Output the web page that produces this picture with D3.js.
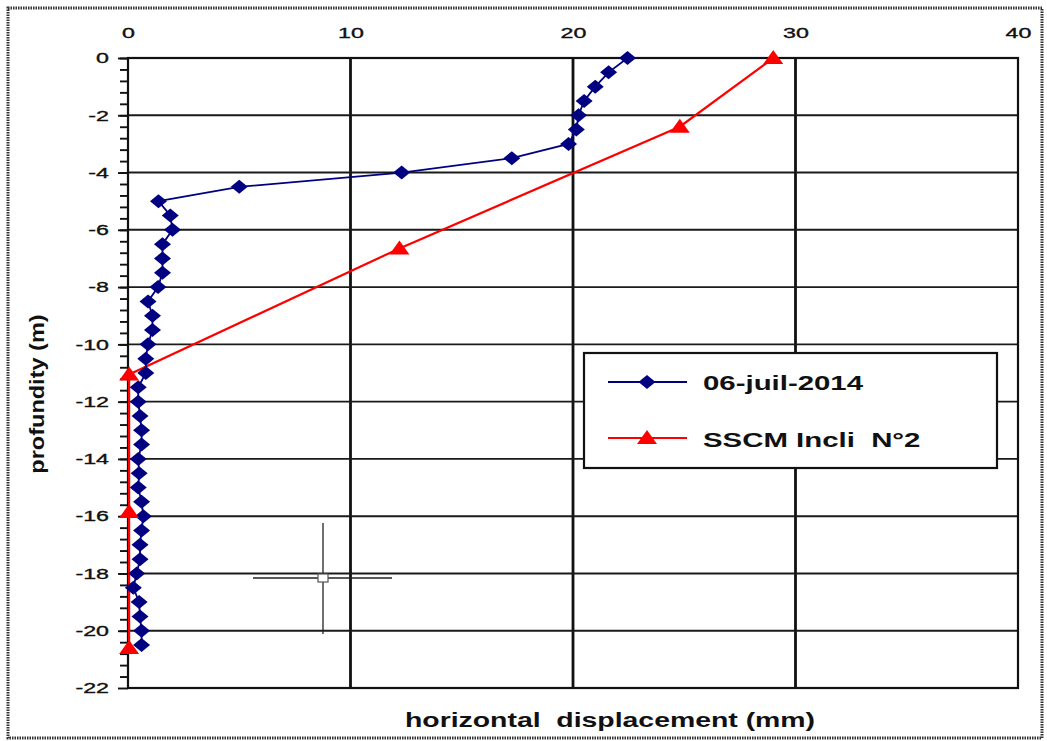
<!DOCTYPE html>
<html>
<head>
<meta charset="utf-8">
<script src="https://cdn.jsdelivr.net/npm/d3@7"></script>
<style>
  html, body { margin: 0; padding: 0; background: #fff; }
  svg { display: block; }
  text { font-family: "Liberation Sans", Arial, Helvetica, sans-serif; }
</style>
</head>
<body>
<svg id="chart" width="1047" height="741"></svg>
<script>
// Inclinometer profile: depth (m) vs horizontal displacement (mm)
const depthsBlue = [0, -0.5, -1, -1.5, -2, -2.5, -3, -3.5, -4, -4.5, -5, -5.5, -6, -6.5, -7, -7.5,
  -8, -8.5, -9, -9.5, -10, -10.5, -11, -11.5, -12, -12.5, -13, -13.5, -14, -14.5, -15, -15.5,
  -16, -16.5, -17, -17.5, -18, -18.5, -19, -19.5, -20, -20.5];
const dispBlue = [22.45, 21.6, 21.0, 20.5, 20.25, 20.15, 19.8, 17.25, 12.3, 5.0, 1.37, 1.9, 2.0, 1.55,
  1.55, 1.55, 1.35, 0.9, 1.1, 1.1, 0.9, 0.8, 0.8, 0.46, 0.46, 0.54, 0.61, 0.61, 0.46, 0.5, 0.46, 0.61,
  0.69, 0.61, 0.54, 0.54, 0.39, 0.24, 0.5, 0.54, 0.61, 0.61];
const depthsRed = [0, -2.4, -6.65, -11.05, -15.85, -20.6];
const dispRed = [29.0, 24.8, 12.2, 0.05, 0.05, 0.05];
const seriesNames = ["06-juil-2014", "SSCM Incli  N°2"];
const xTicks = [0, 10, 20, 30, 40];
const xTickLabels = ["0", "10", "20", "30", "40"];
const yTicks = [0, -2, -4, -6, -8, -10, -12, -14, -16, -18, -20, -22];
const yTickLabels = ["0", "-2", "-4", "-6", "-8", "-10", "-12", "-14", "-16", "-18", "-20", "-22"];
const xTitle = "horizontal  displacement (mm)";
const yTitle = "profundity (m)";

const BLUE = "#000080", RED = "#ff0000", INK = "#111";
const plot = { left: 128, right: 1018, top: 58, bottom: 688 };

const svg = d3.select("#chart");
svg.append("rect").attr("width", 1047).attr("height", 741).attr("fill", "#fff");

// dotted frame round the sheet
svg.append("rect")
  .attr("x", 8).attr("y", 8).attr("width", 1034).attr("height", 730)
  .attr("fill", "none").attr("stroke", "#333").attr("stroke-width", 3)
  .attr("stroke-dasharray", "1.5,1");

const x = d3.scaleLinear().domain([0, 40]).range([plot.left, plot.right]);
const y = d3.scaleLinear().domain([-22, 0]).range([plot.bottom, plot.top]);

// grid
const grid = svg.append("g");
grid.selectAll("line.v").data(xTicks.slice(1, -1)).join("line")
  .attr("x1", d => x(d)).attr("x2", d => x(d))
  .attr("y1", plot.top).attr("y2", plot.bottom)
  .attr("stroke", "#111").attr("stroke-width", 2.8);
grid.selectAll("line.h").data(yTicks.slice(1, -1)).join("line")
  .attr("x1", plot.left).attr("x2", plot.right)
  .attr("y1", d => y(d)).attr("y2", d => y(d))
  .attr("stroke", "#1a1a1a").attr("stroke-width", 1.9);

// plot border
svg.append("rect")
  .attr("x", plot.left).attr("y", plot.top)
  .attr("width", plot.right - plot.left).attr("height", plot.bottom - plot.top)
  .attr("fill", "none").attr("stroke", INK).attr("stroke-width", 2.2);

// left axis: minor ticks every 0.4 m, labelled majors every 2 m
const minorTicks = d3.range(0, 55).map(i => -i * 0.4);
svg.append("g").attr("transform", `translate(${plot.left},0)`)
  .call(d3.axisLeft(y).tickValues(minorTicks).tickSize(8).tickFormat(""))
  .call(g => g.select(".domain").remove())
  .call(g => g.selectAll("line").attr("stroke", INK).attr("stroke-width", 1.9));

const tickSx = 1.55;
svg.append("g").attr("transform", `translate(${plot.left},0)`)
  .call(d3.axisLeft(y).tickValues(yTicks).tickSize(10).tickFormat((d, i) => yTickLabels[i]))
  .call(g => g.select(".domain").remove())
  .call(g => g.selectAll("line").attr("stroke", INK).attr("stroke-width", 1.9))
  .call(g => g.selectAll("text")
    .attr("x", -19 / tickSx).attr("transform", `scale(${tickSx},1)`)
    .attr("fill", INK).attr("stroke", INK).attr("stroke-width", 0.35).attr("font-size", 15));

// top axis labels
svg.append("g").attr("transform", `translate(0,${plot.top})`)
  .call(d3.axisTop(x).tickValues(xTicks).tickSize(0).tickFormat((d, i) => xTickLabels[i]))
  .call(g => g.select(".domain").remove())
  .call(g => g.selectAll("text")
    .attr("y", -20).attr("dy", 0).attr("x", 0)
    .attr("transform", `scale(${tickSx},1)`)
    .attr("fill", INK).attr("stroke", INK).attr("stroke-width", 0.35).attr("font-size", 15));

// axis titles
const titleSx = 1.42;
svg.append("g").attr("transform", `translate(610,727) scale(${titleSx},1)`)
  .append("text").attr("text-anchor", "middle").attr("font-size", 20).attr("font-weight", "bold")
  .attr("fill", INK).style("white-space", "pre").text(xTitle);
svg.append("g").attr("transform", "translate(44,394) rotate(-90) scale(1.12,1)")
  .append("text").attr("text-anchor", "middle").attr("font-size", 21).attr("font-weight", "bold")
  .attr("fill", INK).text(yTitle);

// markers
const diamond = "M0,-7L8.5,0L0,7L-8.5,0Z";
const triangle = "M0,-8L10,6L-10,6Z";

const blueData = depthsBlue.map((d, i) => ({ depth: d, disp: dispBlue[i] }));
const redData = depthsRed.map((d, i) => ({ depth: d, disp: dispRed[i] }));
const line = d3.line().x(d => x(d.disp)).y(d => y(d.depth));

svg.append("path").datum(redData).attr("d", line)
  .attr("fill", "none").attr("stroke", RED).attr("stroke-width", 2.2);
svg.append("path").datum(blueData).attr("d", line)
  .attr("fill", "none").attr("stroke", BLUE).attr("stroke-width", 1.8);

svg.append("g").selectAll("path").data(blueData).join("path")
  .attr("d", diamond).attr("fill", BLUE)
  .attr("transform", d => `translate(${x(d.disp)},${y(d.depth)})`);
svg.append("g").selectAll("path").data(redData).join("path")
  .attr("d", triangle).attr("fill", RED)
  .attr("transform", d => `translate(${x(d.disp)},${y(d.depth)})`);

// legend
const legend = svg.append("g");
legend.append("rect").attr("x", 584).attr("y", 353).attr("width", 413).attr("height", 115)
  .attr("fill", "#fff").attr("stroke", INK).attr("stroke-width", 2.2);
const legendRows = [
  { name: seriesNames[0], color: BLUE, marker: diamond, cy: 382, base: 390, w: 1.8 },
  { name: seriesNames[1], color: RED, marker: triangle, cy: 438, base: 447, w: 2.2 }
];
legendRows.forEach(r => {
  legend.append("line").attr("x1", 608).attr("x2", 687).attr("y1", r.cy).attr("y2", r.cy)
    .attr("stroke", r.color).attr("stroke-width", r.w);
  legend.append("path").attr("d", r.marker).attr("fill", r.color)
    .attr("transform", `translate(647,${r.cy})`);
  legend.append("g").attr("transform", `translate(703,${r.base}) scale(1.4,1)`)
    .append("text").attr("font-size", 21).attr("font-weight", "bold").attr("fill", INK)
    .style("white-space", "pre").text(r.name);
});

// mouse crosshair left on the sheet
const cursor = svg.append("g").attr("stroke", "#222").attr("stroke-width", 1.3);
cursor.append("line").attr("x1", 323).attr("x2", 323).attr("y1", 523).attr("y2", 634);
cursor.append("line").attr("x1", 253).attr("x2", 392).attr("y1", 578).attr("y2", 578);
cursor.append("rect").attr("x", 318).attr("y", 574).attr("width", 10).attr("height", 8)
  .attr("fill", "#fff").attr("stroke", "#555").attr("stroke-width", 1.2);
</script>
</body>
</html>
